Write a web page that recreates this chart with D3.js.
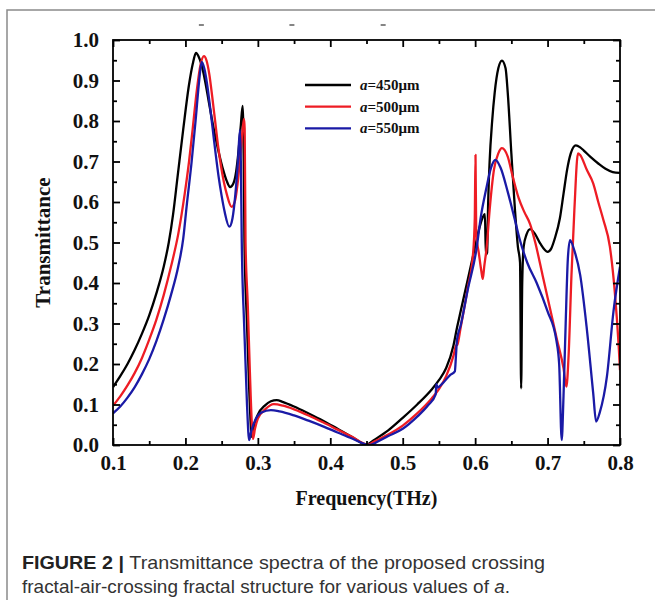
<!DOCTYPE html>
<html>
<head>
<meta charset="utf-8">
<script src="https://cdn.jsdelivr.net/npm/d3@7/dist/d3.min.js"></script>
<style>
  html, body { margin: 0; padding: 0; background: #fff; }
  svg { display: block; }
</style>
</head>
<body>
<svg id="chart" width="655" height="600"></svg>
<script>
// Transmittance spectra, [frequency (THz), transmittance]
const t450 = [
  [0.100,0.143],[0.110,0.170],[0.120,0.200],[0.130,0.235],[0.140,0.275],[0.150,0.320],
  [0.160,0.375],[0.170,0.440],[0.177,0.500],[0.183,0.570],[0.189,0.660],[0.197,0.780],
  [0.205,0.890],[0.210,0.940],[0.2146,0.968],[0.218,0.960],[0.222,0.940],[0.227,0.900],
  [0.232,0.850],[0.237,0.800],[0.242,0.755],[0.247,0.715],[0.252,0.680],[0.257,0.652],
  [0.2616,0.637],[0.266,0.645],[0.270,0.675],[0.273,0.720],[0.2765,0.790],[0.279,0.837],
  [0.2805,0.700],[0.2815,0.500],[0.285,0.300],[0.288,0.140],[0.2905,0.040],[0.2915,0.020],
  [0.295,0.050],[0.300,0.075],[0.310,0.098],[0.318,0.108],[0.326,0.111],[0.335,0.106],
  [0.350,0.095],[0.370,0.078],[0.390,0.060],[0.410,0.040],[0.430,0.020],[0.4503,0.001],
  [0.460,0.012],[0.480,0.036],[0.500,0.067],[0.520,0.100],[0.540,0.137],[0.550,0.160],
  [0.560,0.190],[0.570,0.245],[0.575,0.290],[0.580,0.330],[0.590,0.410],[0.600,0.490],
  [0.605,0.530],[0.610,0.560],[0.6135,0.570],[0.6148,0.470],[0.6165,0.475],[0.618,0.600],
  [0.620,0.700],[0.6235,0.800],[0.627,0.870],[0.632,0.930],[0.637,0.949],[0.642,0.930],
  [0.645,0.870],[0.650,0.720],[0.655,0.580],[0.659,0.490],[0.662,0.450],[0.6635,0.140],
  [0.665,0.400],[0.667,0.490],[0.671,0.520],[0.676,0.533],[0.683,0.520],[0.690,0.497],
  [0.700,0.477],[0.705,0.485],[0.710,0.510],[0.717,0.560],[0.722,0.620],[0.727,0.680],
  [0.732,0.720],[0.739,0.740],[0.745,0.735],[0.750,0.727],[0.760,0.710],[0.770,0.695],
  [0.780,0.682],[0.790,0.674],[0.800,0.672]
];
const t500 = [
  [0.100,0.097],[0.110,0.120],[0.120,0.147],[0.130,0.178],[0.140,0.215],[0.150,0.260],
  [0.160,0.310],[0.170,0.370],[0.180,0.440],[0.190,0.520],[0.199,0.620],[0.205,0.700],
  [0.210,0.780],[0.216,0.880],[0.221,0.940],[0.2256,0.960],[0.229,0.950],[0.233,0.915],
  [0.237,0.860],[0.241,0.800],[0.245,0.740],[0.249,0.690],[0.253,0.650],[0.257,0.620],
  [0.2638,0.588],[0.268,0.600],[0.272,0.645],[0.276,0.720],[0.279,0.780],[0.2809,0.805],
  [0.2818,0.780],[0.283,0.500],[0.286,0.350],[0.289,0.180],[0.2915,0.060],[0.2933,0.015],
  [0.296,0.040],[0.300,0.065],[0.310,0.088],[0.322,0.101],[0.335,0.097],[0.350,0.088],
  [0.370,0.073],[0.390,0.056],[0.410,0.038],[0.430,0.020],[0.452,0.001],[0.460,0.008],
  [0.480,0.026],[0.500,0.048],[0.520,0.078],[0.540,0.115],[0.550,0.138],[0.560,0.170],
  [0.570,0.220],[0.5735,0.245],[0.5755,0.248],[0.580,0.290],[0.590,0.390],[0.597,0.470],
  [0.5995,0.560],[0.6005,0.716],[0.6015,0.520],[0.605,0.475],[0.6085,0.430],[0.6105,0.410],
  [0.6125,0.440],[0.616,0.490],[0.620,0.580],[0.626,0.680],[0.632,0.720],[0.637,0.733],
  [0.645,0.712],[0.652,0.662],[0.660,0.610],[0.668,0.575],[0.676,0.545],[0.683,0.500],
  [0.693,0.420],[0.703,0.340],[0.713,0.260],[0.722,0.190],[0.726,0.144],[0.729,0.220],
  [0.733,0.420],[0.737,0.580],[0.742,0.720],[0.745,0.716],[0.754,0.680],[0.763,0.646],
  [0.770,0.600],[0.777,0.556],[0.786,0.490],[0.793,0.374],[0.798,0.250],[0.800,0.185]
];
const t550 = [
  [0.100,0.078],[0.110,0.095],[0.120,0.117],[0.130,0.143],[0.140,0.175],[0.150,0.212],
  [0.160,0.257],[0.170,0.310],[0.180,0.370],[0.190,0.440],[0.197,0.510],[0.2017,0.590],
  [0.2086,0.700],[0.214,0.800],[0.219,0.900],[0.2224,0.946],[0.226,0.930],[0.230,0.890],
  [0.234,0.835],[0.238,0.775],[0.242,0.715],[0.246,0.660],[0.250,0.615],[0.254,0.577],
  [0.2606,0.539],[0.265,0.560],[0.269,0.620],[0.2725,0.700],[0.2753,0.778],[0.2765,0.700],
  [0.2778,0.500],[0.281,0.300],[0.285,0.100],[0.288,0.012],[0.291,0.035],[0.296,0.060],
  [0.305,0.080],[0.318,0.086],[0.330,0.083],[0.350,0.073],[0.370,0.060],[0.390,0.046],
  [0.410,0.031],[0.430,0.016],[0.455,0.000],[0.465,0.008],[0.480,0.022],[0.500,0.040],
  [0.520,0.070],[0.535,0.098],[0.5455,0.125],[0.5465,0.150],[0.548,0.142],[0.555,0.152],
  [0.565,0.172],[0.572,0.182],[0.5735,0.220],[0.575,0.260],[0.580,0.295],[0.590,0.385],
  [0.6015,0.480],[0.608,0.565],[0.615,0.630],[0.622,0.685],[0.628,0.704],[0.635,0.685],
  [0.645,0.625],[0.655,0.555],[0.662,0.505],[0.672,0.450],[0.685,0.400],[0.700,0.330],
  [0.712,0.260],[0.716,0.200],[0.7195,0.012],[0.722,0.120],[0.725,0.300],[0.728,0.460],
  [0.731,0.506],[0.737,0.480],[0.745,0.420],[0.754,0.290],[0.763,0.128],[0.767,0.058],
  [0.772,0.080],[0.782,0.170],[0.791,0.330],[0.800,0.440]
];

const seriesLabels = ["450\u03bcm", "500\u03bcm", "550\u03bcm"];
const seriesColors = ["#000000", "#ee1c24", "#1a1aa6"];
const xTicks = [0.1, 0.2, 0.3, 0.4, 0.5, 0.6, 0.7, 0.8];
const yTicks = [0.0, 0.1, 0.2, 0.3, 0.4, 0.5, 0.6, 0.7, 0.8, 0.9, 1.0];
const xMinorTicks = [0.15, 0.25, 0.35, 0.45, 0.55, 0.65, 0.75];
const yMinorTicks = [0.05, 0.15, 0.25, 0.35, 0.45, 0.55, 0.65, 0.75, 0.85, 0.95];

const svg = d3.select("#chart");
const serif = "'Liberation Serif', 'Times New Roman', serif";

// outer figure frame (open at right and bottom edges of the page)
svg.append("rect")
  .attr("x", 7).attr("y", 10).attr("width", 700).attr("height", 700)
  .attr("fill", "none").attr("stroke", "#8a8a8a").attr("stroke-width", 1.5);

const plot = { left: 113, right: 620, top: 40, bottom: 445 };
const x = d3.scaleLinear().domain([0.1, 0.8]).range([plot.left, plot.right]);
const y = d3.scaleLinear().domain([0, 1]).range([plot.bottom, plot.top]);

// remnants of a clipped heading above the plot
svg.append("g").selectAll("line")
  .data([0.222, 0.347, 0.473])
  .join("line")
  .attr("x1", d => x(d) - 2.5).attr("x2", d => x(d) + 2.5)
  .attr("y1", 25).attr("y2", 25)
  .attr("stroke", "#666").attr("stroke-width", 1.6);

// clip for curves
svg.append("clipPath").attr("id", "plotClip")
  .append("rect")
  .attr("x", plot.left).attr("y", plot.top - 2)
  .attr("width", plot.right - plot.left).attr("height", plot.bottom - plot.top + 2);

const line = d3.line()
  .x(d => x(d[0])).y(d => y(d[1]))
  .curve(d3.curveMonotoneX);

const curves = svg.append("g").attr("clip-path", "url(#plotClip)");
[t450, t500, t550].forEach((s, i) => {
  curves.append("path")
    .datum(s)
    .attr("d", line)
    .attr("fill", "none")
    .attr("stroke", seriesColors[i])
    .attr("stroke-width", 2.3)
    .attr("stroke-linejoin", "round");
});

// axes with inward ticks on all four sides
function styleAxis(g) {
  g.select(".domain").remove();
  g.selectAll(".tick line").attr("stroke", "#000").attr("stroke-width", 1.8);
  g.selectAll("text")
    .attr("font-family", serif).attr("font-weight", "bold")
    .attr("font-size", 21).attr("fill", "#111");
}

svg.append("g").attr("transform", `translate(0,${plot.bottom})`)
  .call(d3.axisBottom(x).tickValues(xTicks).tickSize(-7).tickPadding(10).tickFormat(d3.format(".1f")))
  .call(styleAxis);
svg.append("g").attr("transform", `translate(0,${plot.bottom})`)
  .call(d3.axisBottom(x).tickValues(xMinorTicks).tickSize(-4).tickFormat(""))
  .call(styleAxis);
svg.append("g").attr("transform", `translate(0,${plot.top})`)
  .call(d3.axisTop(x).tickValues(xTicks).tickSize(-7).tickFormat(""))
  .call(styleAxis);
svg.append("g").attr("transform", `translate(0,${plot.top})`)
  .call(d3.axisTop(x).tickValues(xMinorTicks).tickSize(-4).tickFormat(""))
  .call(styleAxis);

svg.append("g").attr("transform", `translate(${plot.left},0)`)
  .call(d3.axisLeft(y).tickValues(yTicks).tickSize(-7).tickPadding(14).tickFormat(d3.format(".1f")))
  .call(styleAxis);
svg.append("g").attr("transform", `translate(${plot.left},0)`)
  .call(d3.axisLeft(y).tickValues(yMinorTicks).tickSize(-4).tickFormat(""))
  .call(styleAxis);
svg.append("g").attr("transform", `translate(${plot.right},0)`)
  .call(d3.axisRight(y).tickValues(yTicks).tickSize(-7).tickFormat(""))
  .call(styleAxis);
svg.append("g").attr("transform", `translate(${plot.right},0)`)
  .call(d3.axisRight(y).tickValues(yMinorTicks).tickSize(-4).tickFormat(""))
  .call(styleAxis);

// plot frame
svg.append("rect")
  .attr("x", plot.left).attr("y", plot.top)
  .attr("width", plot.right - plot.left).attr("height", plot.bottom - plot.top)
  .attr("fill", "none").attr("stroke", "#000").attr("stroke-width", 1.8);

// axis titles
svg.append("text")
  .attr("x", (plot.left + plot.right) / 2).attr("y", 505)
  .attr("text-anchor", "middle")
  .attr("font-family", serif).attr("font-weight", "bold").attr("font-size", 20)
  .attr("fill", "#111")
  .text("Frequency(THz)");

svg.append("text")
  .attr("transform", `translate(50,${(plot.top + plot.bottom) / 2}) rotate(-90)`)
  .attr("text-anchor", "middle")
  .attr("font-family", serif).attr("font-weight", "bold").attr("font-size", 21)
  .attr("fill", "#111")
  .text("Transmittance");

// legend
const legend = svg.append("g").attr("transform", "translate(305,85)");
seriesLabels.forEach((lab, i) => {
  const row = legend.append("g").attr("transform", `translate(0,${i * 21.7})`);
  row.append("line")
    .attr("x1", 0).attr("x2", 46).attr("y1", 0).attr("y2", 0)
    .attr("stroke", seriesColors[i]).attr("stroke-width", 2.3);
  const t = row.append("text")
    .attr("x", 55).attr("y", 5)
    .attr("font-family", serif).attr("font-weight", "bold").attr("font-size", 15)
    .attr("fill", "#111");
  t.append("tspan").attr("font-style", "italic").text("a");
  t.append("tspan").text("=" + lab);
});

// figure caption
const sans = "'Liberation Sans', Arial, Helvetica, sans-serif";
const cap1 = svg.append("text")
  .attr("x", 22).attr("y", 569)
  .attr("font-family", sans).attr("font-size", 18.5).attr("fill", "#333")
  .attr("textLength", 523).attr("lengthAdjust", "spacingAndGlyphs");
cap1.append("tspan").attr("font-weight", "bold").attr("fill", "#222").text("FIGURE 2 | ");
cap1.append("tspan").text("Transmittance spectra of the proposed crossing");

const cap2 = svg.append("text")
  .attr("x", 22).attr("y", 593)
  .attr("font-family", sans).attr("font-size", 18.5).attr("fill", "#333")
  .attr("textLength", 488).attr("lengthAdjust", "spacingAndGlyphs");
cap2.append("tspan").text("fractal-air-crossing fractal structure for various values of ");
cap2.append("tspan").attr("font-style", "italic").text("a");
cap2.append("tspan").text(".");
</script>
</body>
</html>
